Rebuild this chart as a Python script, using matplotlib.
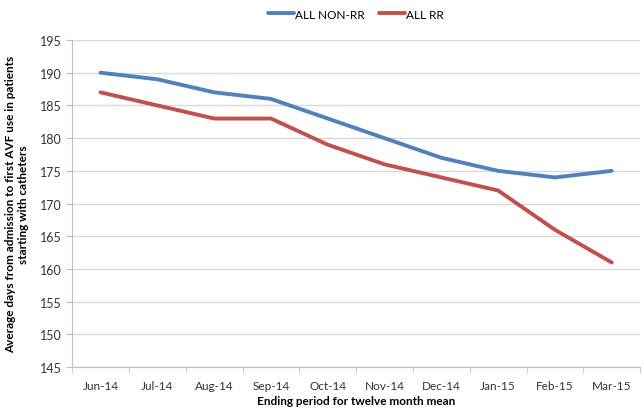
import matplotlib
matplotlib.use('Agg')
import matplotlib.pyplot as plt
import numpy as np

periods = ['Jun-14', 'Jul-14', 'Aug-14', 'Sep-14', 'Oct-14', 'Nov-14',
           'Dec-14', 'Jan-15', 'Feb-15', 'Mar-15']
non_rr = [190, 189, 187, 186, 183, 180, 177, 175, 174, 175]
rr = [187, 185, 183, 183, 179, 176, 174, 172, 166, 161]

plt.rcParams['font.family'] = ['Lato', 'DejaVu Sans']

fig = plt.figure(figsize=(6.44, 4.10), dpi=100)
ax = fig.add_axes([0.112, 0.102, 0.882, 0.798])

x = np.arange(len(periods))
ax.plot(x, non_rr, color='#4F81BD', linewidth=2.8, label='ALL NON-RR', solid_capstyle='round')
ax.plot(x, rr, color='#C0504D', linewidth=2.8, label='ALL RR', solid_capstyle='round')

ax.set_xlim(-0.5, len(periods) - 0.5)
ax.set_ylim(145, 195)
ax.set_yticks(np.arange(145, 196, 5))
ax.set_xticks(x)
ax.set_xticklabels(periods)
ax.set_xticks(np.arange(-0.5, len(periods), 1), minor=True)
ax.tick_params(axis='x', which='major', length=0, labelsize=8.5, colors='#333333', pad=9)
ax.tick_params(axis='x', which='minor', length=4, color='#BFBFBF')
ax.tick_params(axis='y', length=4, color='#BFBFBF', labelsize=9, colors='#333333')

ax.grid(axis='y', color='#D9D9D9', linewidth=1)
ax.set_axisbelow(True)
for side in ['top', 'right']:
    ax.spines[side].set_visible(False)
for side in ['left', 'bottom']:
    ax.spines[side].set_color('#BFBFBF')

ax.set_xlabel('Ending period for twelve month mean', fontsize=8.5, fontweight='bold', labelpad=3)
ax.set_ylabel('Average days from admission to first AVF use in patients\nstarting with catheters',
              fontsize=8.5, fontweight='bold', labelpad=8)

ax.legend(loc='lower center', bbox_to_anchor=(0.5, 1.03), ncol=2, frameon=False,
          fontsize=8.5, handlelength=2.2, handletextpad=0.1, columnspacing=1.2)

fig.savefig('out.png', dpi=100)
